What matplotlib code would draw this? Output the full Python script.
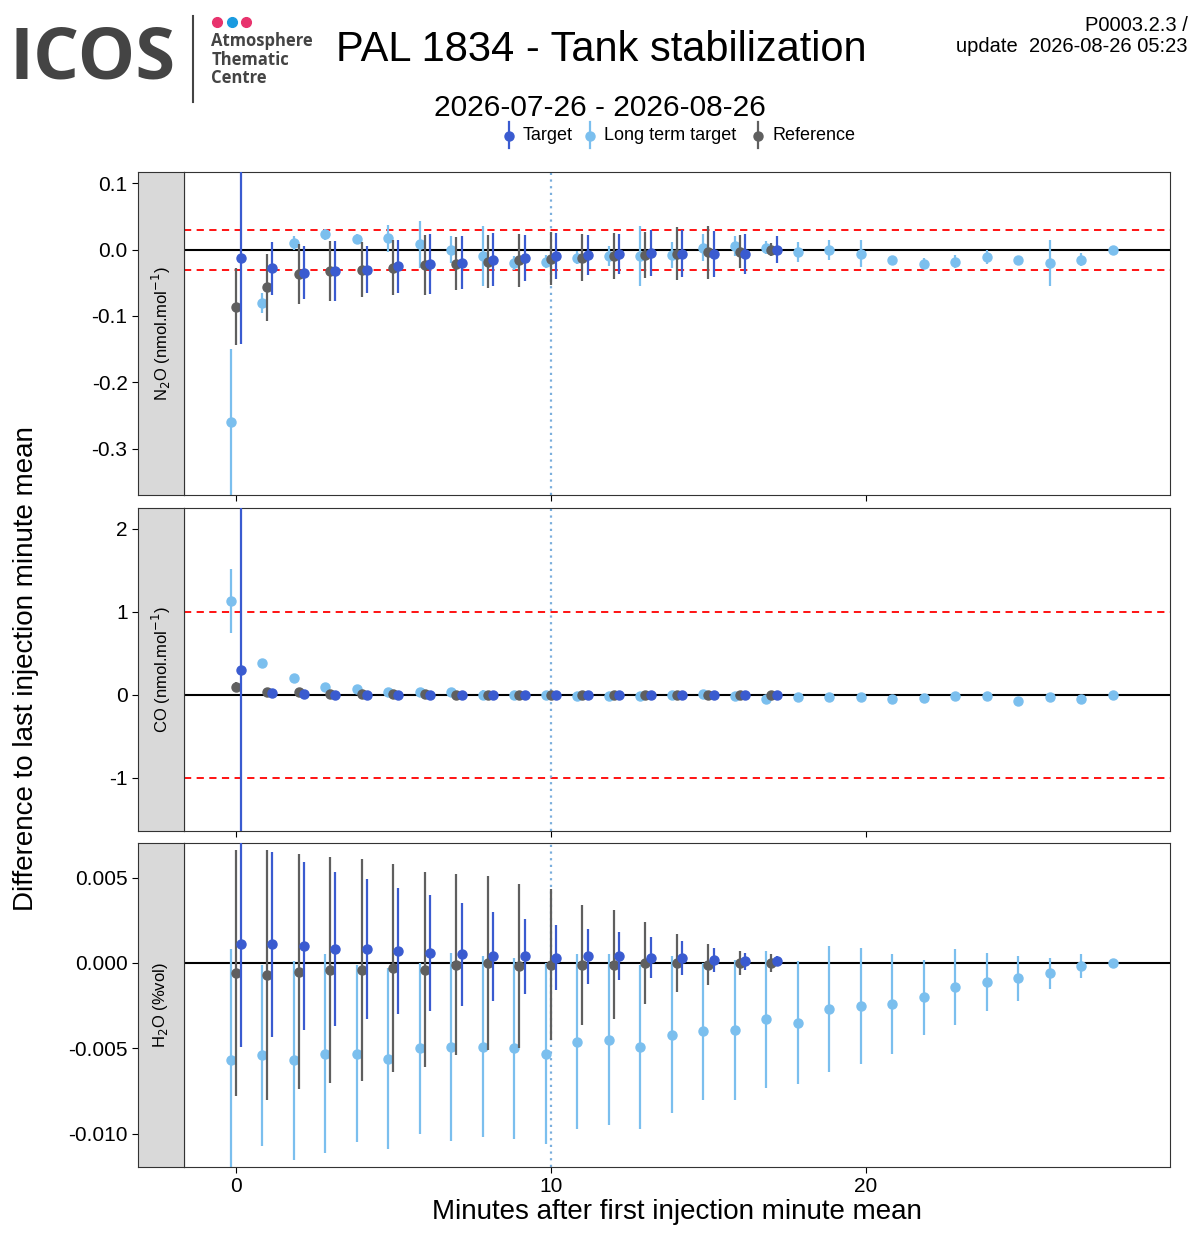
import matplotlib
matplotlib.use("Agg")
import matplotlib.pyplot as plt
import numpy as np

minutes_lt = list(range(29))
minutes_tr = list(range(18))

n2o_lt = [-0.26,-0.08,0.01,0.023,0.016,0.017,0.008,0.0,-0.01,-0.02,-0.018,-0.012,-0.01,-0.01,-0.008,0.003,0.005,0.003,-0.003,0.0,-0.006,-0.016,-0.021,-0.018,-0.011,-0.016,-0.02,-0.015,0.0]
n2o_lt_err = [0.11,0.015,0.01,0.008,0.008,0.02,0.035,0.02,0.045,0.01,0.01,0.01,0.015,0.045,0.02,0.02,0.015,0.01,0.015,0.015,0.02,0.005,0.008,0.01,0.01,0.005,0.035,0.01,0.0]
n2o_ref = [-0.086,-0.057,-0.037,-0.032,-0.03,-0.027,-0.023,-0.021,-0.018,-0.016,-0.014,-0.012,-0.01,-0.008,-0.006,-0.004,-0.003,0.0]
n2o_ref_err = [0.058,0.05,0.045,0.045,0.042,0.042,0.045,0.04,0.04,0.04,0.04,0.035,0.035,0.035,0.04,0.04,0.025,0.01]
n2o_tg = [-0.013,-0.028,-0.035,-0.032,-0.03,-0.025,-0.022,-0.02,-0.015,-0.013,-0.01,-0.008,-0.006,-0.005,-0.006,-0.007,-0.006,0.0]
n2o_tg_err = [0.13,0.04,0.04,0.045,0.035,0.04,0.045,0.04,0.04,0.035,0.035,0.03,0.03,0.035,0.035,0.035,0.03,0.02]

co_lt = [1.13,0.38,0.2,0.09,0.07,0.03,0.04,0.03,0.0,0.0,0.0,-0.01,-0.01,-0.01,0.0,0.01,-0.01,-0.05,-0.03,-0.03,-0.03,-0.05,-0.04,-0.02,-0.02,-0.07,-0.03,-0.05,0.0]
co_lt_err = [0.38,0.03,0.03,0.02,0.02,0.02,0.02,0.02,0.06,0.02,0.02,0.02,0.02,0.02,0.04,0.02,0.02,0.02,0.02,0.02,0.02,0.02,0.02,0.02,0.02,0.02,0.02,0.02,0.0]
co_ref = [0.1,0.04,0.03,0.01,0.01,0.01,0.01,0.0,0.0,0.0,0.0,0.0,0.0,0.0,0.0,0.0,0.0,0.0]
co_ref_err = [0.05,0.03,0.03,0.02,0.02,0.02,0.02,0.02,0.02,0.02,0.02,0.02,0.02,0.02,0.02,0.02,0.02,0.02]
co_tg = [0.3,0.02,0.01,0.0,0.0,0.0,0.0,0.0,0.0,0.0,0.0,0.0,0.0,0.0,0.0,0.0,0.0,0.0]
co_tg_err = [2.0,0.04,0.03,0.03,0.03,0.03,0.03,0.03,0.03,0.03,0.03,0.03,0.03,0.03,0.03,0.03,0.03,0.03]

h2o_lt = [-0.0057,-0.0054,-0.0057,-0.0053,-0.0053,-0.0056,-0.005,-0.0049,-0.0049,-0.005,-0.0053,-0.0046,-0.0045,-0.0049,-0.0042,-0.004,-0.0039,-0.0033,-0.0035,-0.0027,-0.0025,-0.0024,-0.002,-0.0014,-0.0011,-0.0009,-0.0006,-0.0002,0.0]
h2o_lt_err = [0.0065,0.0053,0.0058,0.0058,0.0052,0.0053,0.005,0.0055,0.0053,0.0053,0.0053,0.0051,0.005,0.0048,0.0046,0.004,0.0041,0.004,0.0036,0.0037,0.0034,0.0029,0.0022,0.0022,0.0017,0.0013,0.0009,0.0007,0.0]
h2o_ref = [-0.0006,-0.0007,-0.0005,-0.0004,-0.0004,-0.0003,-0.0004,-0.0001,0.0,-0.0002,-0.0001,-0.0001,-0.0001,0.0,0.0,-0.0001,0.0,0.0]
h2o_ref_err = [0.0072,0.0073,0.0069,0.0066,0.0065,0.0061,0.0057,0.0053,0.0051,0.0048,0.0044,0.0035,0.0032,0.0024,0.0017,0.0012,0.0007,0.0005]
h2o_tg = [0.0011,0.0011,0.001,0.0008,0.0008,0.0007,0.0006,0.0005,0.0004,0.0004,0.0003,0.0004,0.0004,0.0003,0.0003,0.0002,0.0001,0.0001]
h2o_tg_err = [0.006,0.0054,0.0049,0.0045,0.0041,0.0037,0.0034,0.003,0.0026,0.0022,0.0019,0.0016,0.0014,0.0012,0.001,0.0007,0.0005,0.0003]

C_TG = "#3a5bd0"; C_LT = "#7bbfee"; C_REF = "#5f5f5f"
plt.rcParams['font.family'] = ['Liberation Sans', 'DejaVu Sans']

fig = plt.figure(figsize=(12, 12.45), dpi=100)
panels = [
    (0.6024, 0.8618, n2o_lt, n2o_lt_err, n2o_ref, n2o_ref_err, n2o_tg, n2o_tg_err, (-0.37, 0.117), [0.1,0.0,-0.1,-0.2,-0.3], ["0.1","0.0","-0.1","-0.2","-0.3"], 0.03, r"N$_2$O (nmol.mol$^{-1}$)"),
    (0.3325, 0.592, co_lt, co_lt_err, co_ref, co_ref_err, co_tg, co_tg_err, (-1.64, 2.25), [2,1,0,-1], ["2","1","0","-1"], 1.0, r"CO (nmol.mol$^{-1}$)"),
    (0.0627, 0.3229, h2o_lt, h2o_lt_err, h2o_ref, h2o_ref_err, h2o_tg, h2o_tg_err, (-0.01193, 0.00702), [0.005,0.0,-0.005,-0.01], ["0.005","0.000","-0.005","-0.010"], None, r"H$_2$O (%vol)"),
]
d = 0.16
axes = []
for (b, t, lt, lte, rf, rfe, tg, tge, ylim, yt, ytl, lim, lab) in panels:
    ax = fig.add_axes([0.1533, b, 0.975-0.1533, t-b])
    axes.append(ax)
    ax.axhline(0, color="black", lw=1.5, zorder=1)
    if lim:
        for s in (1, -1):
            ax.axhline(s*lim, color="red", ls=(0, (4, 3)), lw=1.3, zorder=1)
    ax.axvline(10, color="#7aaedc", ls=(0, (1, 2)), lw=1.6, zorder=1)
    x_lt = np.array(minutes_lt) - d
    x_tr = np.array(minutes_tr)
    ax.errorbar(x_lt, lt, yerr=lte, fmt='o', color=C_LT, ms=6.5, elinewidth=1.6, capsize=0, zorder=2)
    ax.errorbar(x_tr, rf, yerr=rfe, fmt='o', color=C_REF, ms=6.5, elinewidth=1.6, capsize=0, zorder=3)
    ax.errorbar(x_tr + d, tg, yerr=tge, fmt='o', color=C_TG, ms=6.5, elinewidth=1.6, capsize=0, zorder=4)
    ax.set_xlim(-1.65, 29.65)
    ax.set_ylim(*ylim)
    ax.set_yticks(yt)
    ax.tick_params(axis='y', left=False, labelleft=False)
    ax.set_xticks([0, 10, 20])
    ax.tick_params(direction='out', length=4)
    for s in ax.spines.values():
        s.set_color("#333333")
    sax = fig.add_axes([0.115, b, 0.1533-0.115, t-b])
    sax.set_facecolor("#d9d9d9")
    sax.set_ylim(*ylim)
    sax.set_xticks([])
    sax.set_yticks(yt); sax.set_yticklabels(ytl, fontsize=15)
    sax.tick_params(axis='y', direction='out', length=4)
    for s in sax.spines.values():
        s.set_color("#333333")
    sax.text(0.5, 0.5, lab, rotation=90, ha='center', va='center', fontsize=12, transform=sax.transAxes)
for ax in axes[:2]:
    ax.set_xticklabels([])
axes[2].set_xticklabels(["0", "10", "20"], fontsize=15)
axes[2].set_xlabel("Minutes after first injection minute mean", fontsize=20, labelpad=2)
fig.text(0.022, 0.463, "Difference to last injection minute mean", rotation=90, ha='center', va='center', fontsize=20)

# header
fig.text(0.008, 0.952, "ICOS", fontsize=52, fontweight='bold', color="#444444", va='center', family=['Open Sans', 'DejaVu Sans'])
fig.add_artist(plt.Line2D([0.161, 0.161], [0.918, 0.987], color="#444444", lw=1.5))
for xx, cc in [(0.181, "#e8336d"), (0.193, "#1a9be0"), (0.205, "#e8336d")]:
    fig.add_artist(plt.Line2D([xx], [0.982], marker='o', ms=7, color=cc, lw=0))
fig.text(0.176, 0.952, "Atmosphere\nThematic\nCentre", fontsize=12, fontweight='bold', color="#444444", va='center', linespacing=1.05, family=['Open Sans', 'DejaVu Sans'])
fig.text(0.501, 0.960, "PAL 1834 - Tank stabilization", fontsize=30, ha='center', va='center')
fig.text(0.5, 0.913, "2026-07-26 - 2026-08-26", fontsize=21.5, ha='center', va='center')
fig.text(0.99, 0.971, "P0003.2.3 /\nupdate  2026-08-26 05:23", fontsize=14.5, ha='right', va='center', linespacing=1.1)

# legend
for lx, c, txt in [(0.424, C_TG, "Target"), (0.492, C_LT, "Long term target"), (0.632, C_REF, "Reference")]:
    fig.add_artist(plt.Line2D([lx, lx], [0.881, 0.902], color=c, lw=1.6))
    fig.add_artist(plt.Line2D([lx], [0.891], marker='o', ms=6.5, color=c, lw=0))
    fig.text(lx + 0.0115, 0.891, txt, fontsize=13, va='center')

fig.savefig("out.png", dpi=100)
